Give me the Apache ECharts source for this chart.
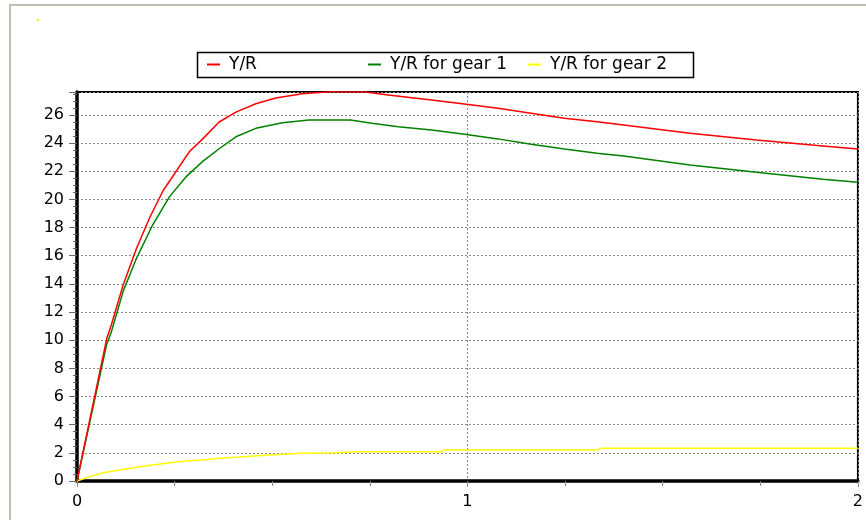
<!DOCTYPE html>
<html>
<head>
<meta charset="utf-8">
<script src="https://cdn.jsdelivr.net/npm/echarts@6/dist/echarts.min.js"></script>
<style>html,body{margin:0;padding:0;background:#fff}#c{width:866px;height:520px}</style>
</head>
<body>
<div id="c"></div>
<script>
var seriesNames = ['Y/R', 'Y/R for gear 1', 'Y/R for gear 2'];
var xTickLabels = [0, 1, 2];

var xRed = [0, 0.076, 0.088, 0.118, 0.152, 0.186, 0.22, 0.254, 0.288, 0.322, 0.364, 0.407, 0.458, 0.509, 0.577, 0.645, 0.734, 0.797, 0.908, 0.997, 1.078, 1.163, 1.248, 1.332, 1.40, 1.57, 1.74, 1.91, 2.0];
var yRed = [0, 10.1, 11.1, 13.9, 16.5, 18.7, 20.6, 22.0, 23.4, 24.3, 25.5, 26.2, 26.8, 27.2, 27.5, 27.65, 27.65, 27.42, 27.07, 26.76, 26.47, 26.12, 25.77, 25.52, 25.29, 24.70, 24.22, 23.80, 23.58];

var xGreen = [0, 0.076, 0.088, 0.118, 0.152, 0.194, 0.237, 0.279, 0.322, 0.364, 0.407, 0.458, 0.526, 0.594, 0.70, 0.755, 0.823, 0.908, 0.993, 1.078, 1.163, 1.248, 1.332, 1.40, 1.57, 1.74, 1.91, 2.0];
var yGreen = [0, 9.7, 10.6, 13.45, 15.8, 18.2, 20.2, 21.6, 22.7, 23.6, 24.45, 25.05, 25.45, 25.64, 25.64, 25.41, 25.17, 24.93, 24.63, 24.3, 23.92, 23.58, 23.28, 23.09, 22.45, 21.93, 21.43, 21.22];

var xYellow = [0, 0.033, 0.067, 0.11, 0.152, 0.194, 0.237, 0.279, 0.322, 0.364, 0.407, 0.49, 0.577, 0.662, 0.72, 0.933, 0.94, 1.332, 1.34, 2.0];
var yYellow = [0, 0.31, 0.59, 0.78, 0.97, 1.14, 1.3, 1.42, 1.49, 1.61, 1.68, 1.85, 1.97, 2.01, 2.08, 2.08, 2.2, 2.2, 2.32, 2.32];

function pairs(xs, ys) { return xs.map(function (x, i) { return [x, ys[i]]; }); }

var colors = ['#ff0000', '#008000', '#ffff00'];
var FONT = 'DejaVu Sans';
var chart = echarts.init(document.getElementById('c'), null, {renderer: 'canvas'});

function legendFor(i, left) {
  return {
    data: [seriesNames[i]], left: left, top: 56, padding: 0,
    icon: 'rect', itemWidth: 13, itemHeight: 2,
    textStyle: {fontFamily: FONT, fontSize: 17, color: '#000', padding: [0, 0, 0, 4]},
    selectedMode: false
  };
}

chart.setOption({
  animation: false,
  backgroundColor: '#fff',
  graphic: [
    {type: 'rect', shape: {x: 10, y: 5, width: 900, height: 600}, style: {fill: 'none', stroke: '#c2beb3', lineWidth: 2}, silent: true},
    {type: 'rect', shape: {x: 37, y: 19, width: 2, height: 2}, style: {fill: '#ffff00'}, silent: true},
    {type: 'rect', shape: {x: 197.5, y: 52.5, width: 496, height: 25}, style: {fill: 'none', stroke: '#000', lineWidth: 1.5}, silent: true}
  ],
  legend: [legendFor(0, 207), legendFor(1, 368), legendFor(2, 528)],
  grid: {left: 77, right: 4, top: 92, bottom: 39, show: true, borderColor: '#000', borderWidth: 2, backgroundColor: 'transparent'},
  xAxis: {
    type: 'value', min: 0, max: 2, interval: 1,
    axisLine: {show: true, onZero: false, lineStyle: {color: '#000', width: 3.5}},
    axisTick: {show: true, length: 6, lineStyle: {color: '#888', width: 1}},
    minorTick: {show: true, splitNumber: 4, length: 5, lineStyle: {color: '#888', width: 1}},
    axisLabel: {fontFamily: FONT, fontSize: 16, color: '#000', margin: 13,
      formatter: function (v) { return xTickLabels.indexOf(v) >= 0 ? String(v) : ''; }},
    splitLine: {show: true, lineStyle: {color: '#888', type: [2, 2], width: 1}}
  },
  yAxis: {
    type: 'value', min: 0, max: 27.63, interval: 2,
    axisLine: {show: true, onZero: false, lineStyle: {color: '#000', width: 3.5}},
    axisTick: {show: true, length: 8, lineStyle: {color: '#666', width: 1}},
    minorTick: {show: true, splitNumber: 4, length: 4, lineStyle: {color: '#666', width: 1}},
    axisLabel: {fontFamily: FONT, fontSize: 16, color: '#000', margin: 13, showMaxLabel: false,
      formatter: function (v) { return (Math.abs(v % 2) < 1e-9) ? String(v) : ''; }},
    splitLine: {show: true, lineStyle: {color: '#888', type: [2, 2], width: 1}}
  },
  series: [
    {name: seriesNames[0], type: 'line', data: pairs(xRed, yRed), showSymbol: false, symbol: 'none', lineStyle: {color: colors[0], width: 1.5}, itemStyle: {color: colors[0]}, z: 3},
    {name: seriesNames[1], type: 'line', data: pairs(xGreen, yGreen), showSymbol: false, symbol: 'none', lineStyle: {color: colors[1], width: 1.5}, itemStyle: {color: colors[1]}, z: 2},
    {name: seriesNames[2], type: 'line', data: pairs(xYellow, yYellow), showSymbol: false, symbol: 'none', lineStyle: {color: colors[2], width: 1.5}, itemStyle: {color: colors[2]}, z: 2}
  ]
});
</script>
</body>
</html>
